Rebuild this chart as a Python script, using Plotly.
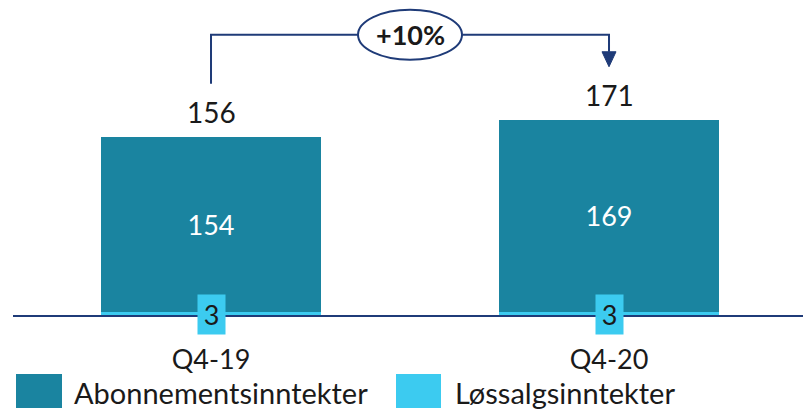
import plotly.graph_objects as go

# ---- data ----
categories = ["Q4-19", "Q4-20"]
abonnement = [154, 169]          # Abonnementsinntekter
lossalg = [3, 3]                 # Løssalgsinntekter
totals = [156, 171]              # total labels
growth_label = "+10%"
series_names = ["Abonnementsinntekter", "Løssalgsinntekter"]

# ---- styles ----
C_DARK = "#1a84a0"
C_LIGHT = "#3ccbf0"
C_NAVY = "#1f3b78"
C_TEXT = "#1a1a1a"
FONT = "Lato"

W, H = 803, 409
ML, MR, MT, MB = 13, 0, 0, 94
PW, PH = W - ML - MR, H - MT - MB
Y_MAX = 277.3
X_RANGE = [-0.4975, 1.4874]

def px2x(px):
    return (px - ML) / PW

def py2y(py):
    return (MT + PH - py) / PH

scale = PH / Y_MAX                      # px per y unit
xscale = PW / (X_RANGE[1] - X_RANGE[0])  # px per x unit

fig = go.Figure()
fig.add_trace(go.Bar(
    x=categories, y=lossalg, name=series_names[1], marker_color=C_LIGHT,
    marker_line_width=0, textposition="none", width=0.553, showlegend=False,
))
fig.add_trace(go.Bar(
    x=categories, y=abonnement, name=series_names[0], marker_color=C_DARK,
    marker_line_width=0, text=[str(v) for v in abonnement], textposition="inside",
    insidetextanchor="middle", textfont=dict(color="white", size=27, family=FONT),
    width=0.553, showlegend=False,
))

annotations = []
# small segment labels in boxes
for c, v in zip(categories, lossalg):
    annotations.append(dict(x=c, y=v / 2, text=str(v), showarrow=False,
                            font=dict(size=27, color=C_TEXT, family=FONT),
                            bgcolor=C_LIGHT, borderpad=0, width=27, height=39,
                            yanchor="middle", yshift=-1))
# totals
for c, t in zip(categories, totals):
    annotations.append(dict(x=c, y=t, text=str(t), showarrow=False,
                            font=dict(size=28, color=C_TEXT, family=FONT),
                            yanchor="middle", yshift=26))

# growth bracket (data coords derived from totals)
y_start = totals[0] + 54 / scale
y_line = max(totals) + 86 / scale
y_tip = totals[1] + 54 / scale
head_h = 15 / scale
head_w = 7 / xscale

shapes = [
    dict(type="path", xref="x", yref="y",
         path=f"M 0,{y_start} L 0,{y_line} L 1,{y_line} L 1,{y_tip + head_h}",
         line=dict(color=C_NAVY, width=2)),
    dict(type="path", xref="x", yref="y",
         path=f"M {1 - head_w},{y_tip + head_h} L {1 + head_w},{y_tip + head_h} L 1,{y_tip} Z",
         fillcolor=C_NAVY, line=dict(color=C_NAVY, width=1)),
    dict(type="circle", xref="x", yref="y",
         x0=0.5 - 52 / xscale, x1=0.5 + 52 / xscale,
         y0=y_line - 25 / scale, y1=y_line + 25 / scale,
         fillcolor="white", line=dict(color=C_NAVY, width=2)),
]
annotations.append(dict(x=0.5, y=y_line, text=f"<b>{growth_label}</b>", showarrow=False,
                        font=dict(size=27, color=C_TEXT, family=FONT), yanchor="middle"))

# manual legend with large swatches
legend_items = [(series_names[0], C_DARK, 16, 62, 72), (series_names[1], C_LIGHT, 396, 441, 453)]
for name, col, x0, x1, tx in legend_items:
    shapes.append(dict(type="rect", xref="paper", yref="paper",
                       x0=px2x(x0), x1=px2x(x1), y0=py2y(408), y1=py2y(374),
                       fillcolor=col, line=dict(width=0)))
    annotations.append(dict(xref="paper", yref="paper", x=px2x(tx), y=py2y(392),
                            text=name, showarrow=False, xanchor="left", yanchor="middle",
                            font=dict(size=29, color=C_TEXT, family=FONT)))

fig.update_layout(
    width=W, height=H, barmode="stack",
    margin=dict(l=ML, r=MR, t=MT, b=MB, pad=0),
    paper_bgcolor="white", plot_bgcolor="white",
    shapes=shapes, annotations=annotations, showlegend=False,
    font=dict(family=FONT, color=C_TEXT),
)
fig.update_xaxes(
    type="category", range=X_RANGE,
    showline=True, linecolor=C_NAVY, linewidth=2, showgrid=False, zeroline=False,
    ticks="outside", ticklen=20, tickcolor="rgba(0,0,0,0)",
    tickfont=dict(size=27, color=C_TEXT, family=FONT),
)
fig.update_yaxes(range=[0, Y_MAX], visible=False, showgrid=False, zeroline=False)

fig.write_html("out.html", config={"displayModeBar": False},
               post_script="document.body.style.margin='0px';")
